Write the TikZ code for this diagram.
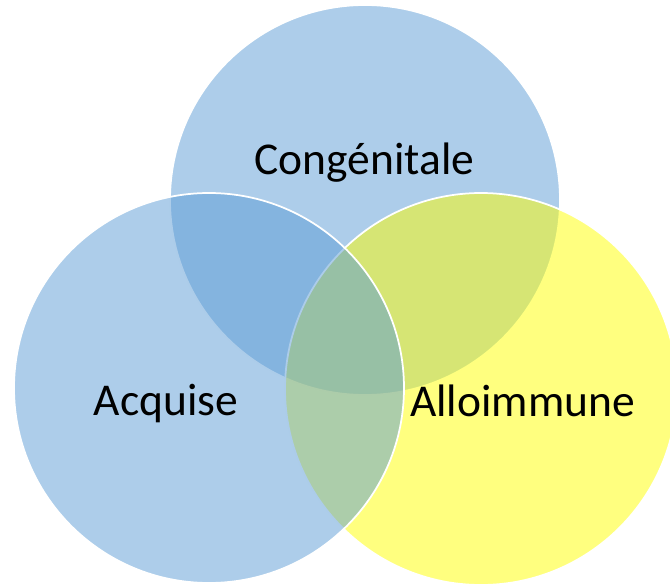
\documentclass[tikz,border=0pt]{standalone}
\usepackage{fontspec}
\setmainfont{Carlito}
\definecolor{vennblue}{HTML}{5B9BD5}
\definecolor{vennyellow}{HTML}{FFFF00}
\begin{document}
\begin{tikzpicture}[
                x=1pt, y=-1pt,
                set/.style={draw=white, line width=1.75pt, fill opacity=0.5},  % half transparent discs
                lbl/.style={font=\fontsize{45.5}{54}\selectfont, anchor=base, inner sep=0pt},
            ]
            % Canvas of the picture
            \useasboundingbox (0,0) rectangle (670,586);
            \clip (0,0) rectangle (670,586);

            % Centres of the three sets
            \coordinate (C) at (365,200);
            \coordinate (R) at (481,389);
            \coordinate (L) at (209,388);

            % Top set drawn first, then the right one, the left one on top
            \draw[set, fill=vennblue] (C) circle[radius=195pt];
            \draw[set, fill=vennyellow] (R) circle[radius=196pt];
            \draw[set, fill=vennblue] (L) circle[radius=195pt];

            % Labels of the sets
            \node[lbl] (congenitale) at (364.5,175) {Congénitale};
            \node[lbl] (acquise) at (166,415) {Acquise};
            \node[lbl] (alloimmune) at (522.5,416) {Alloimmune};

        \end{tikzpicture}
\end{document}
